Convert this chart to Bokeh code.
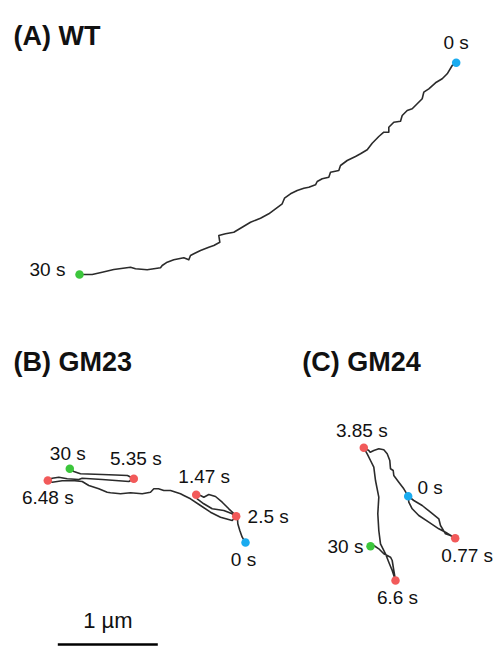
from bokeh.plotting import figure
from bokeh.models import Range1d, ColumnDataSource
from bokeh.core.properties import value
from bokeh.embed import file_html
from bokeh.resources import INLINE

# ---------------- data (µm) ----------------
# (A) WT trajectory, from 0 s to 30 s
wt_x = [4.477, 4.437, 4.387, 4.337, 4.270, 4.203, 4.153, 4.137, 4.087, 4.037, 3.987, 3.937,
        3.920, 3.853, 3.803, 3.803, 3.753, 3.703, 3.637, 3.587, 3.520, 3.470, 3.387, 3.320,
        3.303, 3.220, 3.203, 3.137, 3.087, 3.070, 3.003, 2.953, 2.887, 2.820, 2.760, 2.737,
        2.670, 2.603, 2.520, 2.420, 2.320, 2.253, 2.170, 2.103, 2.113, 2.053, 2.003, 1.920,
        1.853, 1.820, 1.803, 1.753, 1.653, 1.587, 1.537, 1.520, 1.387, 1.270, 1.220, 1.053,
        0.937, 0.837, 0.710]
wt_y = [5.757, 5.730, 5.647, 5.597, 5.557, 5.497, 5.463, 5.397, 5.347, 5.297, 5.280, 5.230,
        5.173, 5.163, 5.113, 5.063, 5.063, 5.020, 4.953, 4.887, 4.847, 4.820, 4.780, 4.730,
        4.680, 4.663, 4.613, 4.597, 4.570, 4.537, 4.513, 4.503, 4.480, 4.447, 4.403, 4.347,
        4.297, 4.247, 4.203, 4.163, 4.103, 4.063, 4.047, 4.030, 3.963, 3.930, 3.913, 3.880,
        3.847, 3.830, 3.787, 3.807, 3.787, 3.763, 3.730, 3.707, 3.687, 3.697, 3.713, 3.690,
        3.663, 3.640, 3.640]
wt_mark_times = ["0 s", "30 s"]
wt_mark_idx = [0, 62]

# (B) GM23 trajectory
gm23_x = [2.370, 2.337, 2.313, 2.293, 2.290, 2.237, 2.153, 2.037, 1.953, 1.887, 1.877, 1.920,
          1.953, 2.003, 2.070, 2.137, 2.203, 2.253, 2.277, 2.237, 2.120, 2.020, 1.920, 1.820,
          1.753, 1.720, 1.620, 1.553, 1.500, 1.453, 1.420, 1.337, 1.220, 1.120, 1.020, 0.987,
          0.903, 0.803, 0.737, 0.637, 0.537, 0.437, 0.393, 0.437, 0.503, 0.587, 0.703, 0.737,
          0.937, 1.070, 1.203, 1.253, 1.190, 1.070, 0.937, 0.720, 0.653, 0.613]
gm23_y = [0.960, 1.013, 1.080, 1.147, 1.200, 1.247, 1.280, 1.297, 1.347, 1.397, 1.437, 1.430,
          1.413, 1.440, 1.420, 1.363, 1.297, 1.250, 1.223, 1.180, 1.213, 1.263, 1.330, 1.397,
          1.430, 1.447, 1.480, 1.480, 1.497, 1.497, 1.463, 1.447, 1.457, 1.447, 1.457, 1.463,
          1.497, 1.530, 1.570, 1.580, 1.577, 1.563, 1.580, 1.603, 1.613, 1.597, 1.590, 1.603,
          1.590, 1.580, 1.570, 1.597, 1.630, 1.635, 1.640, 1.647, 1.670, 1.697]
gm23_mark_times = ["0 s", "1.47 s", "2.5 s", "5.35 s", "6.48 s", "30 s"]
gm23_mark_idx = [0, 10, 18, 51, 42, 57]

# (C) GM24 trajectory
gm24_x = [3.997, 4.053, 4.137, 4.220, 4.303, 4.320, 4.370, 4.420, 4.467, 4.370, 4.303, 4.203,
          4.103, 4.037, 4.003, 3.997, 3.953, 3.903, 3.853, 3.847, 3.820, 3.813, 3.787, 3.753,
          3.703, 3.653, 3.617, 3.603, 3.553, 3.587, 3.620, 3.653, 3.670, 3.703, 3.693, 3.703,
          3.720, 3.770, 3.803, 3.837, 3.870, 3.853, 3.837, 3.820, 3.787, 3.753, 3.703, 3.653,
          3.620]
gm24_y = [1.423, 1.380, 1.330, 1.263, 1.197, 1.130, 1.047, 1.030, 1.003, 1.063, 1.097, 1.163,
          1.230, 1.297, 1.363, 1.423, 1.497, 1.563, 1.630, 1.680, 1.697, 1.780, 1.847, 1.887,
          1.897, 1.880, 1.863, 1.880, 1.907, 1.847, 1.780, 1.713, 1.580, 1.413, 1.247, 1.080,
          0.947, 0.847, 0.763, 0.680, 0.580, 0.680, 0.780, 0.813, 0.830, 0.847, 0.897, 0.930,
          0.923]
gm24_mark_times = ["0 s", "0.77 s", "3.85 s", "6.6 s", "30 s"]
gm24_mark_idx = [0, 8, 28, 40, 48]

panel_titles = ["(A) WT", "(B) GM23", "(C) GM24"]
scale_bar_um = 1.0
scale_bar_label = "1 µm"

# ---------------- styles / layout ----------------
FONT = "Liberation Sans"
LINE_COLOR = "#2b2b2b"
START_COLOR = "#1aabef"
END_COLOR = "#3cc63c"
MID_COLOR = "#f25a5a"
DOT_SIZE = 8.5
LABEL_SIZE = "19px"

# label offsets in screen px (dx, dy; dy positive = down)
wt_offsets = [(0, -20), (-32, -5)]
gm23_offsets = [(-2, 17), (8, -18), (32, 0), (2, -20), (0, 17), (-2, -15)]
gm24_offsets = [(22, -9), (12, 17), (-2, -17), (2, 17), (-25, 0)]

title_pos = [(0.05, 6.03), (0.05, 2.763), (2.937, 2.763)]
scale_bar_x0, scale_bar_y = 0.493, -0.06

p = figure(width=496, height=646, output_backend="svg", toolbar_location=None,
           x_range=Range1d(-0.08, 4.88), y_range=Range1d(-0.08, 6.38),
           min_border=0, min_border_left=0, min_border_right=0,
           min_border_top=0, min_border_bottom=0)
p.xaxis.visible = False
p.yaxis.visible = False
p.grid.visible = False
p.outline_line_color = None
p.background_fill_color = "white"
p.border_fill_color = "white"

panels = [
    (wt_x, wt_y, wt_mark_times, wt_mark_idx, wt_offsets),
    (gm23_x, gm23_y, gm23_mark_times, gm23_mark_idx, gm23_offsets),
    (gm24_x, gm24_y, gm24_mark_times, gm24_mark_idx, gm24_offsets),
]

for xs, ys, times, idxs, offs in panels:
    p.line(xs, ys, line_color=LINE_COLOR, line_width=1.6, line_join="round")
    mx = [xs[i] for i in idxs]
    my = [ys[i] for i in idxs]
    colors = []
    for t, i in zip(times, idxs):
        if i == 0:
            colors.append(START_COLOR)
        elif t == "30 s":
            colors.append(END_COLOR)
        else:
            colors.append(MID_COLOR)
    src = ColumnDataSource(dict(x=mx, y=my, t=times, c=colors,
                                dx=[o[0] for o in offs], dy=[o[1] for o in offs]))
    p.scatter("x", "y", source=src, size=DOT_SIZE, fill_color="c", line_color=None)
    p.text("x", "y", text="t", source=src, x_offset="dx", y_offset="dy",
           text_font=value(FONT), text_font_size=LABEL_SIZE, text_color="#111111",
           text_align="center", text_baseline="middle")

# panel titles
p.text([t[0] for t in title_pos], [t[1] for t in title_pos], text=panel_titles,
       text_font=value(FONT), text_font_size="27px", text_font_style="bold",
       text_color="#111111", text_align="left", text_baseline="alphabetic")

# scale bar
p.segment(x0=[scale_bar_x0], y0=[scale_bar_y], x1=[scale_bar_x0 + scale_bar_um],
          y1=[scale_bar_y], line_color="black", line_width=2.5)
p.text([scale_bar_x0 + scale_bar_um / 2], [scale_bar_y], text=[scale_bar_label],
       y_offset=-24, text_font=value(FONT), text_font_size="22px",
       text_color="#111111", text_align="center", text_baseline="middle")

open("out.html", "w").write(file_html(p, INLINE))
